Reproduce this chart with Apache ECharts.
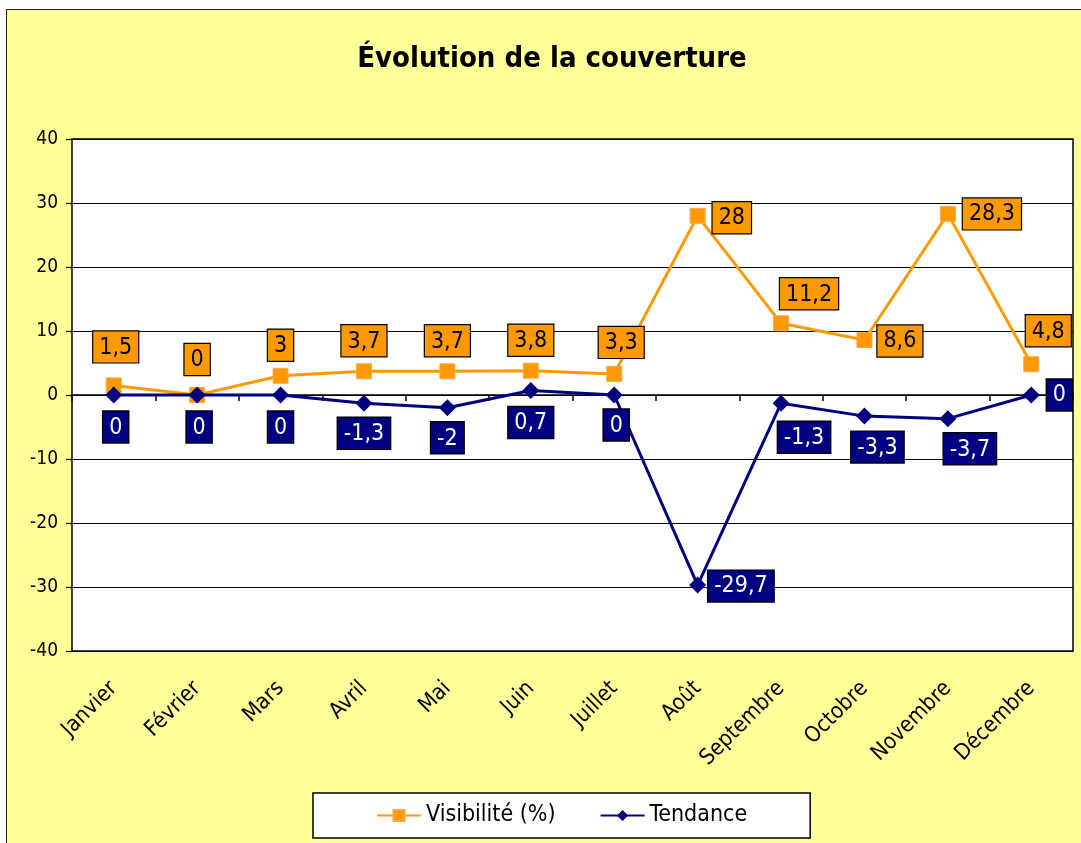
<!DOCTYPE html>
<html><head><meta charset="utf-8">
<script src="https://cdn.jsdelivr.net/npm/echarts@6/dist/echarts.min.js"></script>
<style>
html,body{margin:0;padding:0;background:#fff;overflow:hidden;}
#frame{position:absolute;left:6px;top:9px;width:1100px;height:900px;background:#FFFF99;border:1.5px solid #222;}
#c{position:absolute;left:0;top:0;width:1081px;height:843px;}
</style></head>
<body>
<div id="frame"></div>
<div id="c"></div>
<script>
const categories = ['Janvier','Février','Mars','Avril','Mai','Juin','Juillet','Août','Septembre','Octobre','Novembre','Décembre'];
const visibilite = [1.5, 0, 3, 3.7, 3.7, 3.8, 3.3, 28, 11.2, 8.6, 28.3, 4.8];
const tendance = [0, 0, 0, -1.3, -2, 0.7, 0, -29.7, -1.3, -3.3, -3.7, 0];
const yTicks = [-40, -30, -20, -10, 0, 10, 20, 30, 40];

// label placement (layout only): [position, distance, [dx, dy]]
const visLayout = [
  ['top',15,[2,0]],['top',12,[0,0]],['top',7,[0,0]],['top',7,[0,0]],['top',7,[0,0]],['top',7,[0,0]],['top',8,[7,0]],
  ['right',7,[0,2]],['top',6,[28,0]],['right',5,[0,1]],['right',7,[0,0]],['top',10,[17,0]]
];
const tenLayout = [
  ['bottom',8,[2,0]],['bottom',8,[2,0]],['bottom',8,[0,0]],['bottom',6,[0,0]],['bottom',6,[0,0]],['bottom',8,[0,0]],['bottom',6,[2,0]],
  ['right',2,[0,1]],['bottom',10,[23,0]],['bottom',7,[13,0]],['bottom',6,[22,0]],['right',7,[0,0]]
];
const fmt = v => String(v).replace('.', ',');

function build(values, layout){
  return values.map((v,i)=>({
    value: v,
    label: {position: layout[i][0], distance: layout[i][1], offset: layout[i][2]}
  }));
}

const chart = echarts.init(document.getElementById('c'), null, {renderer:'canvas'});
const font = '"DejaVu Sans Condensed", "DejaVu Sans", sans-serif';
chart.setOption({
  animation: false,
  backgroundColor: 'transparent',
  title: {
    text: 'Évolution de la couverture',
    left: 547, top: 40, textAlign: 'center',
    textStyle: {fontFamily: font, fontWeight: 'bold', fontSize: 29, color: '#000'}
  },
  legend: {
    left: 313, top: 793,
    padding: [11, 63, 11, 63],
    backgroundColor: '#fff', borderColor: '#000', borderWidth: 1.5,
    itemWidth: 44, itemHeight: 14, itemGap: 44,
    textStyle: {fontFamily: font, fontSize: 23, color: '#000'},
    data: ['Visibilité (%)', 'Tendance']
  },
  grid: {left: 72, top: 139, width: 1001, height: 512, show: true, backgroundColor: '#fff', borderColor: '#000', borderWidth: 1.5},
  xAxis: [{
    type: 'category', data: categories, boundaryGap: true, position: 'bottom',
    axisLine: {onZero: false, show: false},
    axisTick: {show: false},
    axisLabel: {rotate: 45, fontFamily: font, fontSize: 22, color: '#000', margin: 34, interval: 0}
  },{
    type: 'category', data: categories, boundaryGap: true, position: 'bottom',
    axisLine: {onZero: true, show: true, lineStyle: {color: '#000', width: 1.5}},
    axisTick: {show: true, length: 6, lineStyle: {color: '#000', width: 1.5}, interval: 0},
    axisLabel: {show: false}
  }],
  yAxis: {
    type: 'value', min: -40, max: 40, interval: 10,
    axisLine: {show: false},
    axisTick: {show: true, length: 6, lineStyle: {color: '#000', width: 1.2}},
    splitLine: {show: true, lineStyle: {color: '#000', width: 1.2}},
    axisLabel: {fontFamily: font, fontSize: 19, color: '#000', margin: 14,
      formatter: v => yTicks.includes(v) ? String(v) : ''}
  },
  series: [{
    name: 'Visibilité (%)', type: 'line', xAxisIndex: 0,
    data: build(visibilite, visLayout),
    symbol: 'rect', symbolSize: 15,
    lineStyle: {color: '#FF9900', width: 3},
    itemStyle: {color: '#FF9900', borderColor: '#FFA64D', borderWidth: 1},
    label: {show: true, formatter: p => fmt(p.value),
      backgroundColor: '#FF9900', borderColor: '#000', borderWidth: 1.2,
      color: '#000', fontFamily: font, fontSize: 23, padding: [5, 6, 3, 6]},
    z: 3
  },{
    name: 'Tendance', type: 'line', xAxisIndex: 0,
    data: build(tendance, tenLayout),
    symbol: 'diamond', symbolSize: 17,
    lineStyle: {color: '#000080', width: 3},
    itemStyle: {color: '#000080'},
    label: {show: true, formatter: p => fmt(p.value),
      backgroundColor: '#000080', borderColor: '#000', borderWidth: 1.2,
      color: '#fff', fontFamily: font, fontSize: 23, padding: [5, 6, 3, 6]},
    z: 4
  }]
});
</script>
</body></html>
